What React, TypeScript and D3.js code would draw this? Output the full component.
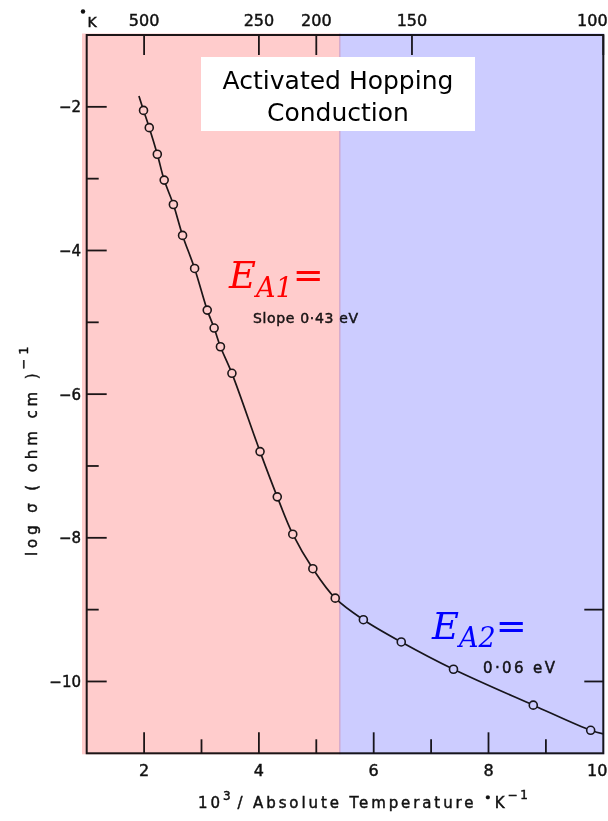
import React from "react";
import * as d3 from "d3";

// ---- data ----
const invT = [1.99, 2.09, 2.23, 2.35, 2.51, 2.67, 2.88, 3.10, 3.22, 3.33, 3.53, 4.02, 4.32, 4.59, 4.94, 5.33, 5.82, 6.48, 7.39, 8.78, 9.78];
const logSigma = [-2.05, -2.29, -2.66, -3.02, -3.36, -3.79, -4.25, -4.83, -5.08, -5.34, -5.71, -6.80, -7.43, -7.95, -8.43, -8.84, -9.14, -9.45, -9.83, -10.33, -10.68];
const curveStart = [1.91, -1.85];
const curveEnd = [10.0, -10.73];
const bottomTicks = [2, 3, 4, 5, 6, 7, 8, 9];
const bottomLabels = [2, 4, 6, 8, 10];
const leftTicks = [-10, -9, -8, -7, -6, -5, -4, -3, -2];
const rightTicks = [-10, -9];
const leftLabels = [-2, -4, -6, -8, -10];
const topTemps = [500, 250, 200, 150, 100];
const regionSplit = 5.41;

const W = 608, H = 821;
const x = d3.scaleLinear().domain([1, 10]).range([86.7, 603.3]);
const y = d3.scaleLinear().domain([-11, -1]).range([753.3, 35]);

const ink = "#1c1a1c";
const font = "'DejaVu Sans', sans-serif";
const labelStroke = { stroke: "#111", strokeWidth: 0.45 };

export default function App() {
  const pts = invT.map((v, i) => [v, logSigma[i]] as [number, number]);
  const linePts: [number, number][] = [[curveStart[0], curveStart[1]], ...pts, [curveEnd[0], curveEnd[1]]];
  const line = d3.line<[number, number]>().x(d => x(d[0])).y(d => y(d[1])).curve(d3.curveCatmullRom.alpha(0.5));
  const [x0, x1] = x.range();
  const [yb, yt] = y.range();
  const xs = x(regionSplit);
  return (
    <svg width={W} height={H} style={{ position: "absolute", left: 0, top: 0, background: "#fff" }} fontFamily={font}>
      {/* ink layer */}
      <g>
        <rect x={x0} y={yt} width={x1 - x0} height={yb - yt} fill="#fff" stroke={ink} strokeWidth={2} />
        {bottomTicks.map(t => (
          <line key={"b" + t} x1={x(t)} x2={x(t)} y1={yb} y2={yb - (t % 2 === 0 ? 21 : 14)} stroke={ink} strokeWidth={1.8} />
        ))}
        {leftTicks.map(t => (
          <line key={"l" + t} x1={x0} x2={x0 + (t % 2 === 0 ? 20 : 12)} y1={y(t)} y2={y(t)} stroke={ink} strokeWidth={1.8} />
        ))}
        {rightTicks.map(t => (
          <line key={"r" + t} x1={x1} x2={x1 - 19} y1={y(t)} y2={y(t)} stroke={ink} strokeWidth={1.8} />
        ))}
        {topTemps.map(T => (
          <line key={"t" + T} x1={x(1000 / T)} x2={x(1000 / T)} y1={yt} y2={yt + 20} stroke={ink} strokeWidth={1.8} />
        ))}
        <path d={line(linePts) || ""} fill="none" stroke={ink} strokeWidth={1.7} />
        {pts.map((p, i) => (
          <circle key={i} cx={x(p[0])} cy={y(p[1])} r={4} fill="#fff" stroke={ink} strokeWidth={1.6} />
        ))}
        <text x={253} y={323} fontSize={14} fill={ink} {...labelStroke} textLength={105} lengthAdjust="spacing">Slope 0·43 eV</text>
        <text x={483} y={673} fontSize={15} fill={ink} {...labelStroke} textLength={72} lengthAdjust="spacing">0·06 eV</text>
      </g>
      {/* tint overlays */}
      <rect x={82} y={yt - 1.5} width={xs - 82 + 0.6} height={yb - yt + 2.5} fill="#ffcccc" style={{ mixBlendMode: "multiply" }} />
      <rect x={xs - 0.6} y={yt - 1.5} width={x1 - xs + 1.6} height={yb - yt + 2.5} fill="#ccccff" style={{ mixBlendMode: "multiply" }} />

      {/* axis labels */}
      {bottomLabels.map(t => (
        <text key={"bl" + t} x={x(t) - (t === 10 ? 6 : 0)} y={776} fontSize={16} textAnchor="middle" fill="#111" {...labelStroke}>{t}</text>
      ))}
      {leftLabels.map(t => (
        <text key={"ll" + t} x={81} y={y(t) + 5.5} fontSize={15} textAnchor="end" fill="#111" {...labelStroke}>{"−" + Math.abs(t)}</text>
      ))}
      {topTemps.map(T => (
        <text key={"tl" + T} x={x(1000 / T) - (T === 100 ? 11 : 0)} y={26} fontSize={16} textAnchor="middle" fill="#111" {...labelStroke}>{T}</text>
      ))}
      <circle cx={83} cy={11.5} r={2.2} fill="#111" />
      <text x={87.5} y={26.5} fontSize={14} fill="#111" {...labelStroke}>K</text>

      <text x={198} y={808} fontSize={15} fill="#111" letterSpacing={2.9} {...labelStroke}>
        <tspan>10</tspan>
        <tspan dy={-8} fontSize={12}>3</tspan>
        <tspan dy={8} dx={4}>/ Absolute Temperature </tspan>
        <tspan dy={-6} fontSize={13}>•</tspan>
        <tspan dy={6}>K</tspan>
        <tspan dy={-9} fontSize={12}>−1</tspan>
      </text>

      <text transform="translate(37,556) rotate(-90)" fontSize={15} fill="#111" letterSpacing={3.9} {...labelStroke}>
        <tspan>log  σ  ( ohm  cm )</tspan>
        <tspan dy={-9} fontSize={13}>−1</tspan>
      </text>

      {/* title box */}
      <rect x={201} y={57} width={274} height={74} fill="#fff" />
      <text x={338} y={89} fontSize={25} textAnchor="middle" fill="#000">Activated Hopping</text>
      <text x={338} y={121} fontSize={25} textAnchor="middle" fill="#000">Conduction</text>

      {/* activation energy labels */}
      <text x={229} y={288} fill="#ff0000" fontFamily="'DejaVu Serif', serif">
        <tspan fontSize={37} fontStyle="italic">E</tspan>
        <tspan fontSize={27} fontStyle="italic" dy={9}>A1</tspan>
        <tspan fontSize={37} dy={-9}>=</tspan>
      </text>
      <text x={432} y={639} fill="#0000ff" fontFamily="'DejaVu Serif', serif">
        <tspan fontSize={37} fontStyle="italic">E</tspan>
        <tspan fontSize={27} fontStyle="italic" dy={8}>A2</tspan>
        <tspan fontSize={37} dy={-8}>=</tspan>
      </text>
    </svg>
  );
}
